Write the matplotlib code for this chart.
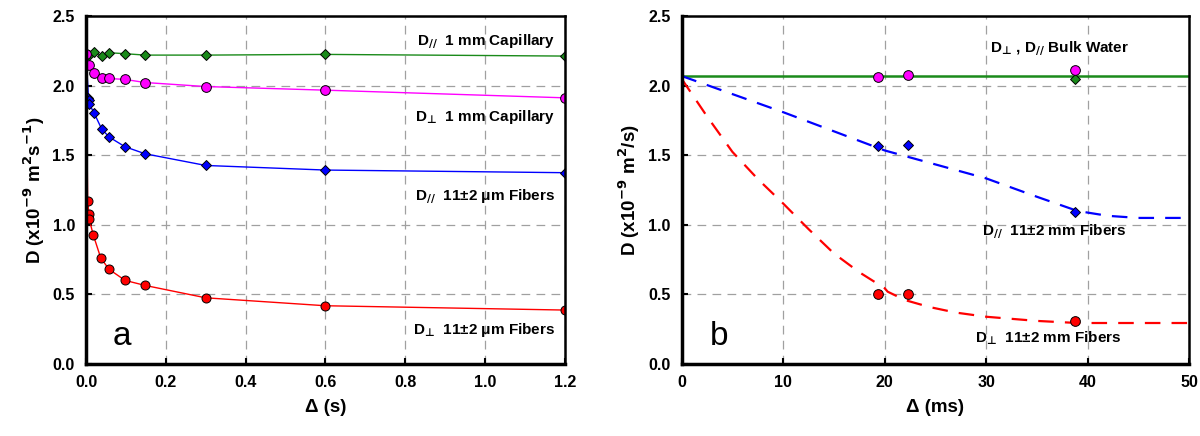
import numpy as np
import matplotlib
matplotlib.use('Agg')
import matplotlib.pyplot as plt

plt.rcParams['font.family'] = ['Liberation Sans', 'DejaVu Sans']
plt.rcParams['font.weight'] = 'bold'
plt.rcParams['mathtext.fontset'] = 'dejavusans'
plt.rcParams['mathtext.default'] = 'rm'

# ---- panel a: D vs diffusion time (s) ----
# every series starts from the shared free-water point at delta = 0
par_cap_x = [0.0, 0.0075, 0.02, 0.039, 0.058, 0.098, 0.148, 0.3, 0.6, 1.2]
par_cap_y = [2.225, 2.22, 2.244, 2.215, 2.237, 2.23, 2.22, 2.22, 2.225, 2.213]

perp_cap_x = [0.0, 0.0075, 0.02, 0.039, 0.058, 0.098, 0.148, 0.3, 0.6, 1.2]
perp_cap_y = [2.225, 2.146, 2.088, 2.059, 2.052, 2.045, 2.023, 1.994, 1.968, 1.913]

par_fib_x = [0.0, 0.006, 0.007, 0.008, 0.02, 0.039, 0.058, 0.098, 0.148, 0.3, 0.6, 1.2]
par_fib_y = [2.225, 1.915, 1.897, 1.868, 1.805, 1.69, 1.631, 1.561, 1.511, 1.427, 1.394, 1.375]

perp_fib_x = [0.0, 0.004, 0.0075, 0.008, 0.018, 0.037, 0.058, 0.098, 0.148, 0.3, 0.6, 1.2]
perp_fib_y = [2.225, 1.173, 1.077, 1.04, 0.929, 0.761, 0.68, 0.601, 0.565, 0.476, 0.419, 0.388]

# ---- panel b: D vs diffusion time (ms) ----
bulk_level = 2.07
bulk_perp_x = [19.3, 22.3, 38.8]
bulk_perp_y = [2.064, 2.076, 2.114]
bulk_par_x = [38.8]
bulk_par_y = [2.05]
fib_par_x = [19.3, 22.3, 38.8]
fib_par_y = [1.566, 1.571, 1.09]
fib_perp_x = [19.3, 22.3, 38.8]
fib_perp_y = [0.50, 0.505, 0.309]

# fitted model curves
fit_par_x = [0, 10, 20, 30, 35, 39, 42, 45, 50]
fit_par_y = [2.07, 1.81, 1.535, 1.334, 1.202, 1.10, 1.065, 1.05, 1.05]
fit_perp_x = [0, 2.5, 5, 7.5, 10, 12.5, 15, 17.5, 20, 20.3, 22, 24.4, 27, 30, 35, 39, 50]
fit_perp_y = [2.05, 1.78, 1.525, 1.33, 1.154, 0.97, 0.795, 0.66, 0.545, 0.52, 0.46, 0.41, 0.37,
              0.34, 0.31, 0.295, 0.295]

GREEN = '#1a8a1a'
MAGENTA = '#ff00ff'
BLUE = '#0000ff'
RED = '#ff0000'

# literal U+22A5 (the \perp command maps to U+27C2, which bold DejaVu lacks)
PAR = r'D$_{\mathit{//}}$'
PERP = 'D$_{\u22a5}$'

fig = plt.figure(figsize=(12, 4.36), dpi=100)
ax1 = fig.add_axes([0.0717, 0.165, 0.399, 0.798])
ax2 = fig.add_axes([0.568, 0.165, 0.423, 0.798])


def style_axes(ax):
    ax.set_ylim(0, 2.5)
    ax.set_yticks(np.arange(0, 2.51, 0.5))
    ax.yaxis.set_major_formatter(matplotlib.ticker.FormatStrFormatter('%.1f'))
    ax.grid(True, color='#a0a0a0', linestyle=(0, (7, 5)), linewidth=0.9)
    ax.set_axisbelow(True)
    ax.tick_params(direction='in', length=4, width=1.5, labelsize=11.5, pad=8)
    for lab in ax.get_xticklabels() + ax.get_yticklabels():
        lab.set_fontweight('bold')
    ax.spines['left'].set_linewidth(2.5)
    ax.spines['bottom'].set_linewidth(2.5)
    ax.spines['top'].set_linewidth(1.8)
    ax.spines['right'].set_linewidth(1.8)


mk = dict(markeredgecolor='black', markeredgewidth=0.7)

ax1.plot(perp_fib_x, perp_fib_y, '-o', color=RED, lw=1.0, ms=6.5, **mk)
ax1.plot(par_fib_x, par_fib_y, '-D', color=BLUE, lw=1.0, ms=5.5, **mk)
ax1.plot(par_cap_x, par_cap_y, '-D', color=GREEN, lw=1.0, ms=5.5, **mk)
ax1.plot(perp_cap_x, perp_cap_y, '-o', color=MAGENTA, lw=1.0, ms=7, **mk)
ax1.set_xlim(0, 1.2)
ax1.set_xticks(np.arange(0, 1.21, 0.2))
ax1.xaxis.set_major_formatter(matplotlib.ticker.FormatStrFormatter('%.1f'))
style_axes(ax1)
ax1.set_xlabel('Δ (s)', fontsize=13.5, fontweight='bold', labelpad=6)
ax1.set_ylabel(r'D (x10$^{\mathbf{-9}}$ m$^{\mathbf{2}}$s$^{\mathbf{-1}}$)',
               fontsize=13.5, fontweight='bold', labelpad=4)

lab_kw = dict(transform=ax1.transAxes, ha='right', va='center', fontsize=11, fontweight='bold')
ax1.text(0.979, 0.926, PAR + '  1 mm Capillary', **lab_kw)
ax1.text(0.979, 0.710, PERP + '  1 mm Capillary', **lab_kw)
ax1.text(0.979, 0.483, PAR + '  11±2 μm Fibers', **lab_kw)
ax1.text(0.979, 0.098, PERP + '  11±2 μm Fibers', **lab_kw)
ax1.text(0.055, 0.08, 'a', transform=ax1.transAxes, fontsize=24, fontweight='normal',
         ha='left', va='center')

ax2.axhline(bulk_level, color=GREEN, lw=1.8)
ax2.plot(fit_par_x, fit_par_y, color=BLUE, lw=1.6, dashes=(7, 5))
ax2.plot(fit_perp_x, fit_perp_y, color=RED, lw=1.6, dashes=(7, 5))
ax2.plot(bulk_par_x, bulk_par_y, 'D', color=GREEN, ms=5.5, **mk)
ax2.plot(bulk_perp_x, bulk_perp_y, 'o', color=MAGENTA, ms=7, **mk)
ax2.plot(fib_par_x, fib_par_y, 'D', color=BLUE, ms=5.5, **mk)
ax2.plot(fib_perp_x, fib_perp_y, 'o', color=RED, ms=7, **mk)
ax2.set_xlim(0, 50)
ax2.set_xticks(np.arange(0, 51, 10))
style_axes(ax2)
ax2.set_xlabel('Δ (ms)', fontsize=13.5, fontweight='bold', labelpad=6)
ax2.set_ylabel(r'D (x10$^{\mathbf{-9}}$ m$^{\mathbf{2}}$/s)',
               fontsize=13.5, fontweight='bold', labelpad=4)

lab2 = dict(transform=ax2.transAxes, ha='left', va='center', fontsize=11, fontweight='bold')
ax2.text(0.607, 0.906, PERP + ' , ' + PAR + ' Bulk Water', **lab2)
ax2.text(0.592, 0.380, PAR + '  11±2 mm Fibers', **lab2)
ax2.text(0.578, 0.075, PERP + '  11±2 mm Fibers', **lab2)
ax2.text(0.055, 0.08, 'b', transform=ax2.transAxes, fontsize=24, fontweight='normal',
         ha='left', va='center')

fig.savefig('out.png', dpi=100)
